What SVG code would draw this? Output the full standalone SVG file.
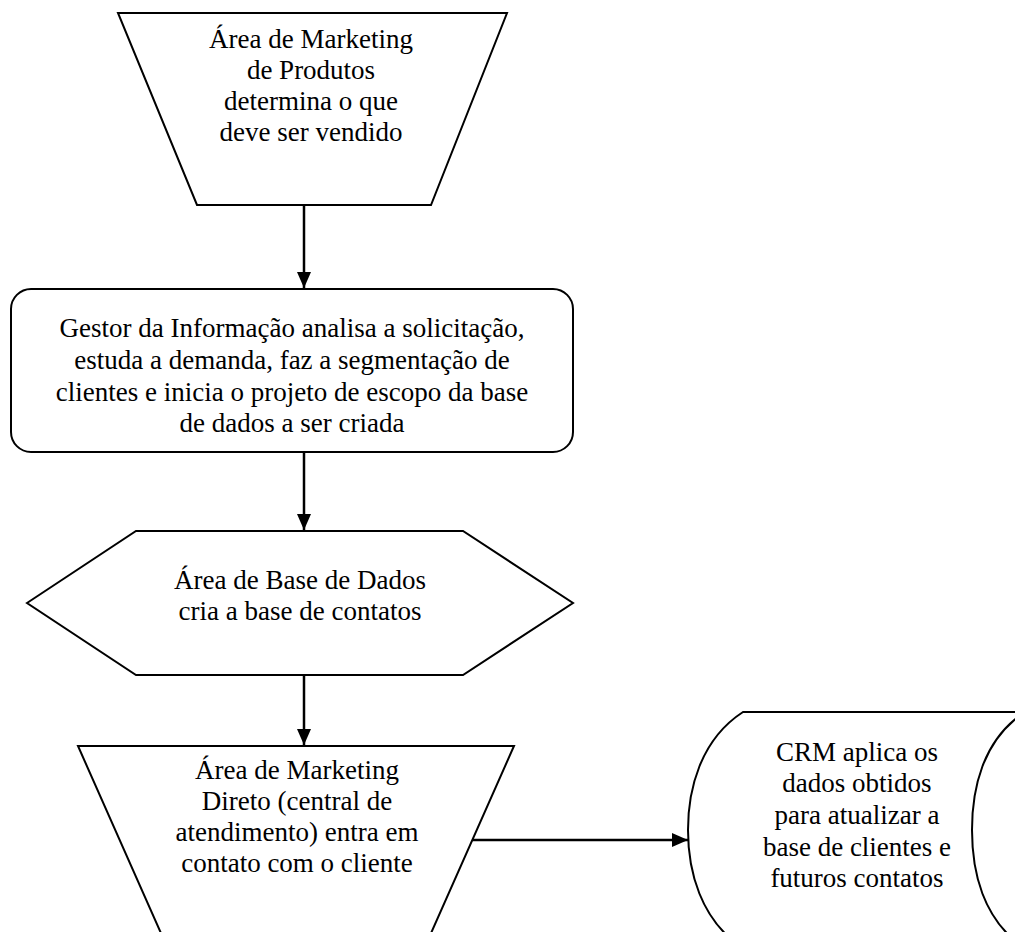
<svg xmlns="http://www.w3.org/2000/svg" width="1015" height="932" viewBox="0 0 1015 932">
<defs>
<marker id="ah" viewBox="0 0 16 14" refX="16" refY="7" markerWidth="16" markerHeight="14" markerUnits="userSpaceOnUse" orient="auto">
<path d="M0,0 L16,7 L0,14 Z" fill="#000"/>
</marker>
<style>
.s{fill:#fff;stroke:#000;stroke-width:2;}
.t{font-family:'Liberation Serif','Times New Roman',serif;font-size:27px;fill:#000;text-anchor:middle;}
.c{stroke:#000;stroke-width:2.5;fill:none;marker-end:url(#ah);}
</style>
</defs>
<rect width="1015" height="932" fill="#fff"/>
<g id="n1">
<polygon class="s" points="118,13 507,13 431,205 197,205"/>
<text class="t" x="311" y="48">Área de Marketing</text>
<text class="t" x="311" y="79">de Produtos</text>
<text class="t" x="311" y="110">determina o que</text>
<text class="t" x="311" y="141">deve ser vendido</text>
</g>
<g id="n2">
<rect class="s" x="11" y="289" width="562" height="163" rx="20" ry="20"/>
<text class="t" x="292" y="337">Gestor da Informação analisa a solicitação,</text>
<text class="t" x="292" y="369">estuda a demanda, faz a segmentação de</text>
<text class="t" x="292" y="401">clientes e inicia o projeto de escopo da base</text>
<text class="t" x="292" y="432">de dados a ser criada</text>
</g>
<g id="n3">
<polygon class="s" points="27,603 136,531 463,531 573,603 463,675 136,675"/>
<text class="t" x="300" y="589">Área de Base de Dados</text>
<text class="t" x="300" y="620">cria a base de contatos</text>
</g>
<g id="n4">
<polygon class="s" points="78,746 514,746 428,940 164,940"/>
<text class="t" x="297" y="779">Área de Marketing</text>
<text class="t" x="297" y="810">Direto (central de</text>
<text class="t" x="297" y="841">atendimento) entra em</text>
<text class="t" x="297" y="872">contato com o cliente</text>
</g>
<g id="n5">
<path class="s" d="M743,712 L1025,712 C982,740 972,790 972,830 C972,870 982,920 1025,948 L743,948 C700,920 688,870 688,830 C688,790 700,740 743,712 Z"/>
<text class="t" x="857" y="761">CRM aplica os</text>
<text class="t" x="857" y="792">dados obtidos</text>
<text class="t" x="857" y="824">para atualizar a</text>
<text class="t" x="857" y="856">base de clientes e</text>
<text class="t" x="857" y="887">futuros contatos</text>
</g>
<g id="connectors">
<line class="c" x1="304" y1="205" x2="304" y2="288"/>
<line class="c" x1="304" y1="452" x2="304" y2="530"/>
<line class="c" x1="304" y1="675" x2="304" y2="745"/>
<line class="c" x1="472" y1="840" x2="688" y2="840"/>
</g>
</svg>
